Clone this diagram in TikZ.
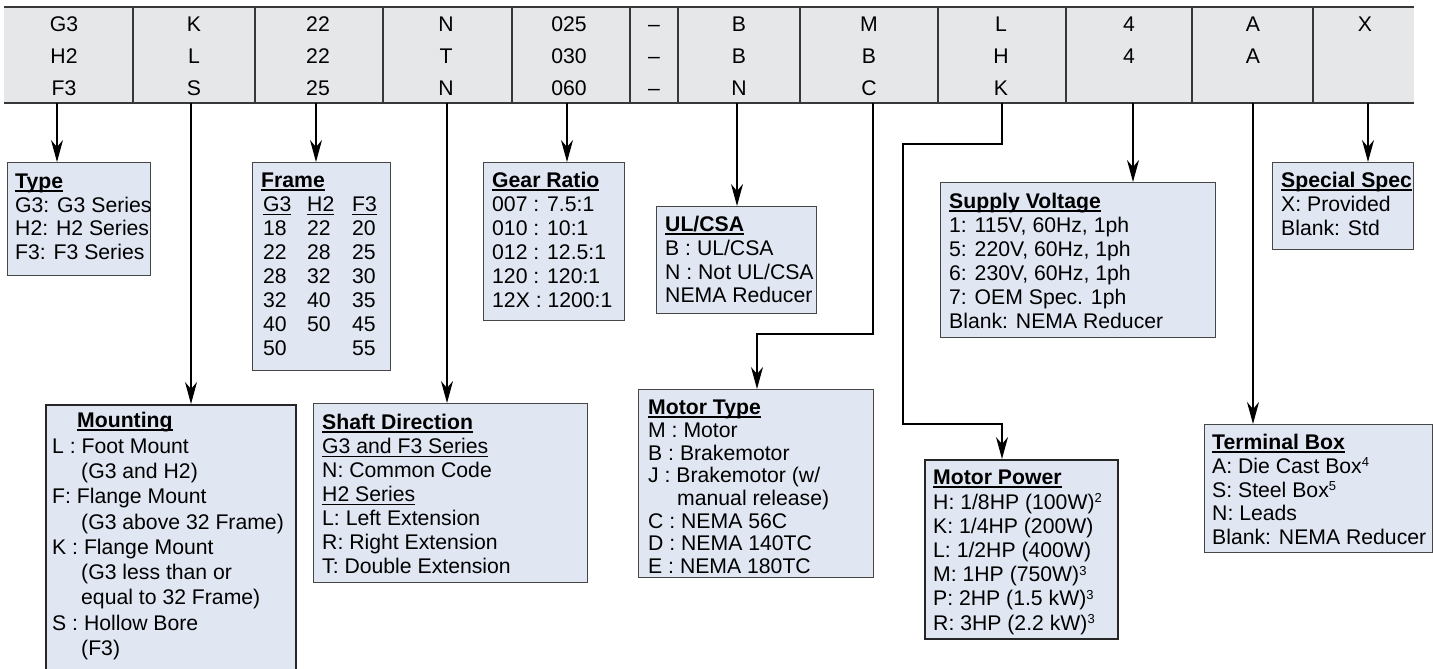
\documentclass[tikz,border=0pt]{standalone}
\usepackage{fontspec}
\setmainfont{Liberation Sans}
\usetikzlibrary{arrows.meta}
\definecolor{boxfill}{RGB}{224,230,242}
\definecolor{headfill}{RGB}{230,231,232}
\definecolor{boxline}{RGB}{70,70,70}
\definecolor{headline}{RGB}{55,55,55}
\newcommand\myul[1]{\mbox{\setbox0\hbox{#1}\rlap{\rule[-2.8pt]{\wd0}{1.1pt}}\box0}}
\newcommand\myhd[1]{\mbox{\setbox0\hbox{\bfseries #1}\rlap{\rule[-3pt]{\wd0}{1.6pt}}\box0}}
\newcommand\sups[1]{\raisebox{6.5pt}{\fontsize{13}{13}\selectfont #1}}
\newcommand\fr[3]{\hspace*{2pt}\makebox[44pt][l]{#1}\makebox[45pt][l]{#2}#3}
\tikzset{
  box/.style={draw=boxline, fill=boxfill, line width=1.3pt, inner sep=0pt, anchor=north west},
  txt/.style={anchor=north west, inner sep=0pt, align=left, text=black, font=\fontsize{21.2}{#1}\selectfont},
  hd/.style={anchor=north, inner sep=0pt, align=center, text=black, font=\fontsize{21.2}{32}\selectfont},
  conn/.style={draw=black, line width=1.3pt},
  arr/.style={conn, -{Stealth[length=22pt,width=12pt,inset=7pt]}},
}
\begin{document}
\begin{tikzpicture}[x=1pt,y=-1pt]
\useasboundingbox (0,0) rectangle (1433,669);
\clip (0,0) rectangle (1433,669);
% header bar
\fill[headfill] (4,7) rectangle (1414,103);
\draw[headline, line width=2pt] (4,7) -- (1414,7) (4,103) -- (1414,103);
\foreach \x in {133,255,383,512,630,678,800,938,1066,1192,1313}
  \draw[headline, line width=1.3pt] (\x,7) -- (\x,103);
% header texts
\node[hd] (hG) at (64,9.2) {\strut G3\\H2\\F3};
\node[hd] (hK) at (194,9.2) {\strut K\\L\\S};
\node[hd] (hF) at (318,9.2) {\strut 22\\22\\25};
\node[hd] (hN) at (446,9.2) {\strut N\\T\\N};
\node[hd] (hR) at (569,9.2) {\strut 025\\030\\060};
\node[hd] (hD) at (654,9.2) {\strut –\\–\\–};
\node[hd] (hB) at (739,9.2) {\strut B\\B\\N};
\node[hd] (hM) at (869,9.2) {\strut M\\B\\C};
\node[hd] (hL) at (1001,9.2) {\strut L\\H\\K};
\node[hd] (hV) at (1129,9.2) {\strut 4\\4};
\node[hd] (hA) at (1253,9.2) {\strut A\\A};
\node[hd] (hX) at (1365,9.2) {\strut X};
% connector starts
\coordinate (cG) at (57,103);
\coordinate (cK) at (191,103);
\coordinate (cF) at (316,103);
\coordinate (cN) at (447,103);
\coordinate (cR) at (567,103);
\coordinate (cB) at (737,103);
\coordinate (cM) at (873,103);
\coordinate (cL) at (1002,103);
\coordinate (cV) at (1133,103);
\coordinate (cA) at (1253,103);
\coordinate (cX) at (1368,103);
\coordinate (mbend) at (757,334);
\coordinate (lb1) at (903,144);
\coordinate (lb2) at (903,424);
% boxes
\node[box, minimum width=143pt, minimum height=113pt] (type) at (7,162) {};
\node[box, minimum width=138pt, minimum height=208pt] (frame) at (252,162) {};
\node[box, minimum width=141pt, minimum height=158pt] (gear) at (483,162) {};
\node[box, minimum width=160pt, minimum height=107pt] (ulcsa) at (656,206) {};
\node[box, minimum width=275pt, minimum height=155pt] (supply) at (940,182) {};
\node[box, minimum width=141pt, minimum height=87pt] (special) at (1272,162) {};
\node[box, line width=2.4pt, draw=black!85, minimum width=250pt, minimum height=290pt] (mount) at (45,404) {};
\node[box, minimum width=274pt, minimum height=179pt] (shaft) at (313,403) {};
\node[box, minimum width=235pt, minimum height=188pt] (mtype) at (638,389) {};
\node[box, draw=black!85, line width=1.6pt, minimum width=193pt, minimum height=179pt] (mpow) at (924,459) {};
\node[box, minimum width=228pt, minimum height=128pt] (term) at (1204,424) {};
% box texts
\node[txt=23.5] (typeT) at (15,172.2) {\strut\myhd{Type}\\G3: G3 Series\\H2: H2 Series\\F3: F3 Series};
\node[txt=24] (frameT) at (261,170.8) {\strut\myhd{Frame}\\
  \fr{\myul{G3}}{\myul{H2}}{\myul{F3}}\\
  \fr{18}{22}{20}\\ \fr{22}{28}{25}\\ \fr{28}{32}{30}\\ \fr{32}{40}{35}\\ \fr{40}{50}{45}\\ \fr{50}{}{55}};
\node[txt=24] (gearT) at (492,170.8) {\strut\myhd{Gear Ratio}\\007 : 7.5:1\\010 : 10:1\\012 : 12.5:1\\120 : 120:1\\12X : 1200:1};
\node[txt=23.7] (ulcsaT) at (665,215.0) {\strut\myhd{UL/CSA}\\B : UL/CSA\\N : Not UL/CSA\\NEMA Reducer};
\node[txt=24] (supplyT) at (949,191.8) {\strut\myhd{Supply Voltage}\\1: 115V, 60Hz, 1ph\\5: 220V, 60Hz, 1ph\\6: 230V, 60Hz, 1ph\\7: OEM Spec. 1ph\\Blank: NEMA Reducer};
\node[txt=24] (specialT) at (1281,170.8) {\strut\myhd{Special Spec}\\X: Provided\\Blank: Std};
\node[txt=25.3] (mountT) at (52,409.9) {\strut\hspace*{25pt}\myhd{Mounting}\\
  L : Foot Mount\\\hspace*{29pt}(G3 and H2)\\
  F: Flange Mount\\\hspace*{29pt}(G3 above 32 Frame)\\
  K : Flange Mount\\\hspace*{29pt}(G3 less than or\\\hspace*{29pt}equal to 32 Frame)\\
  S : Hollow Bore\\\hspace*{29pt}(F3)};
\node[txt=24] (shaftT) at (322,412.8) {\strut\myhd{Shaft Direction}\\\myul{G3 and F3 Series}\\N: Common Code\\\myul{H2 Series}\\L: Left Extension\\R: Right Extension\\T: Double Extension};
\node[txt=22.7] (mtypeT) at (648,398.7) {\strut\myhd{Motor Type}\\M : Motor\\B : Brakemotor\\J : Brakemotor (w/\\\hspace*{29pt}manual release)\\C : NEMA 56C\\D : NEMA 140TC\\E : NEMA 180TC};
\node[txt=24.2] (mpowT) at (933,467.7) {\strut\myhd{Motor Power}\\H: 1/8HP (100W)\sups{2}\\K: 1/4HP (200W)\\L: 1/2HP (400W)\\M: 1HP (750W)\sups{3}\\P: 2HP (1.5 kW)\sups{3}\\R: 3HP (2.2 kW)\sups{3}};
\node[txt=23.7] (termT) at (1212,433.0) {\strut\myhd{Terminal Box}\\A: Die Cast Box\sups{4}\\S: Steel Box\sups{5}\\N: Leads\\Blank: NEMA Reducer};
% connectors
\draw[arr] (cG) -- (cG |- type.north);
\draw[arr] (cK) -- (cK |- mount.north);
\draw[arr] (cF) -- (cF |- frame.north);
\draw[arr] (cN) -- (cN |- shaft.north);
\draw[arr] (cR) -- (cR |- gear.north);
\draw[arr] (cB) -- (cB |- ulcsa.north);
\draw[arr] (cM) |- (mbend) -- (mbend |- mtype.north);
\draw[arr] (cL) |- (lb1) -- (lb2) -| (cL |- mpow.north);
\draw[arr] (cV) -- (cV |- supply.north);
\draw[arr] (cA) -- (cA |- term.north);
\draw[arr] (cX) -- (cX |- special.north);
\end{tikzpicture}
\end{document}
